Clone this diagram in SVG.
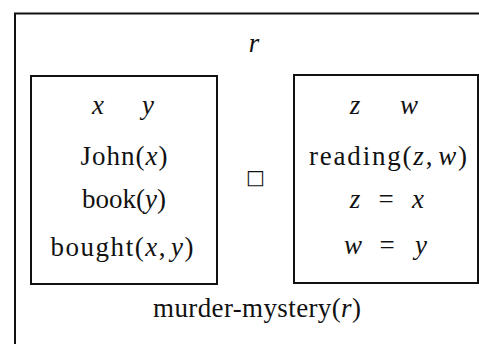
<svg xmlns="http://www.w3.org/2000/svg" width="479" height="344" viewBox="0 0 479 344">
<style>
.box{fill:none;stroke:#111;stroke-width:2}
text{font-family:"Liberation Serif","Times New Roman",serif;font-size:27px;fill:#111;text-anchor:middle}
.i{font-style:italic}
.sym{font-family:"DejaVu Sans",sans-serif;font-size:20px}
</style>
<rect width="479" height="344" fill="#fff"/>
<g id="outer">
<path class="box" d="M15,345 V13.5 H480"/>
<text class="i" x="254" y="52">r</text>
<text x="257" y="317" textLength="208" lengthAdjust="spacing">murder-mystery(<tspan class="i">r</tspan>)</text>
</g>
<g id="left-box">
<rect class="box" x="31" y="76" width="186" height="208"/>
<text class="i" x="98" y="114">x</text>
<text class="i" x="148" y="114">y</text>
<text x="124" y="165" textLength="87" lengthAdjust="spacing">John(<tspan class="i">x</tspan>)</text>
<text x="124" y="208" textLength="84" lengthAdjust="spacing">book(<tspan class="i">y</tspan>)</text>
<text x="122" y="256" textLength="143" lengthAdjust="spacing">bought(<tspan class="i">x</tspan>,<tspan class="i" dx="4">y</tspan>)</text>
</g>
<g id="operator">
<text class="sym" x="255.5" y="184">□</text>
</g>
<g id="right-box">
<rect class="box" x="294" y="75" width="184" height="208"/>
<text class="i" x="355" y="114">z</text>
<text class="i" x="409" y="114">w</text>
<text x="388" y="165" textLength="158" lengthAdjust="spacing">reading(<tspan class="i">z</tspan>,<tspan class="i" dx="4">w</tspan>)</text>
<text class="i" x="355" y="208">z</text>
<text x="386" y="208" font-size="30">=</text>
<text class="i" x="418" y="208">x</text>
<text class="i" x="353" y="254">w</text>
<text x="387" y="254" font-size="30">=</text>
<text class="i" x="421" y="254">y</text>
</g>
<g id="connectors"></g>
</svg>
